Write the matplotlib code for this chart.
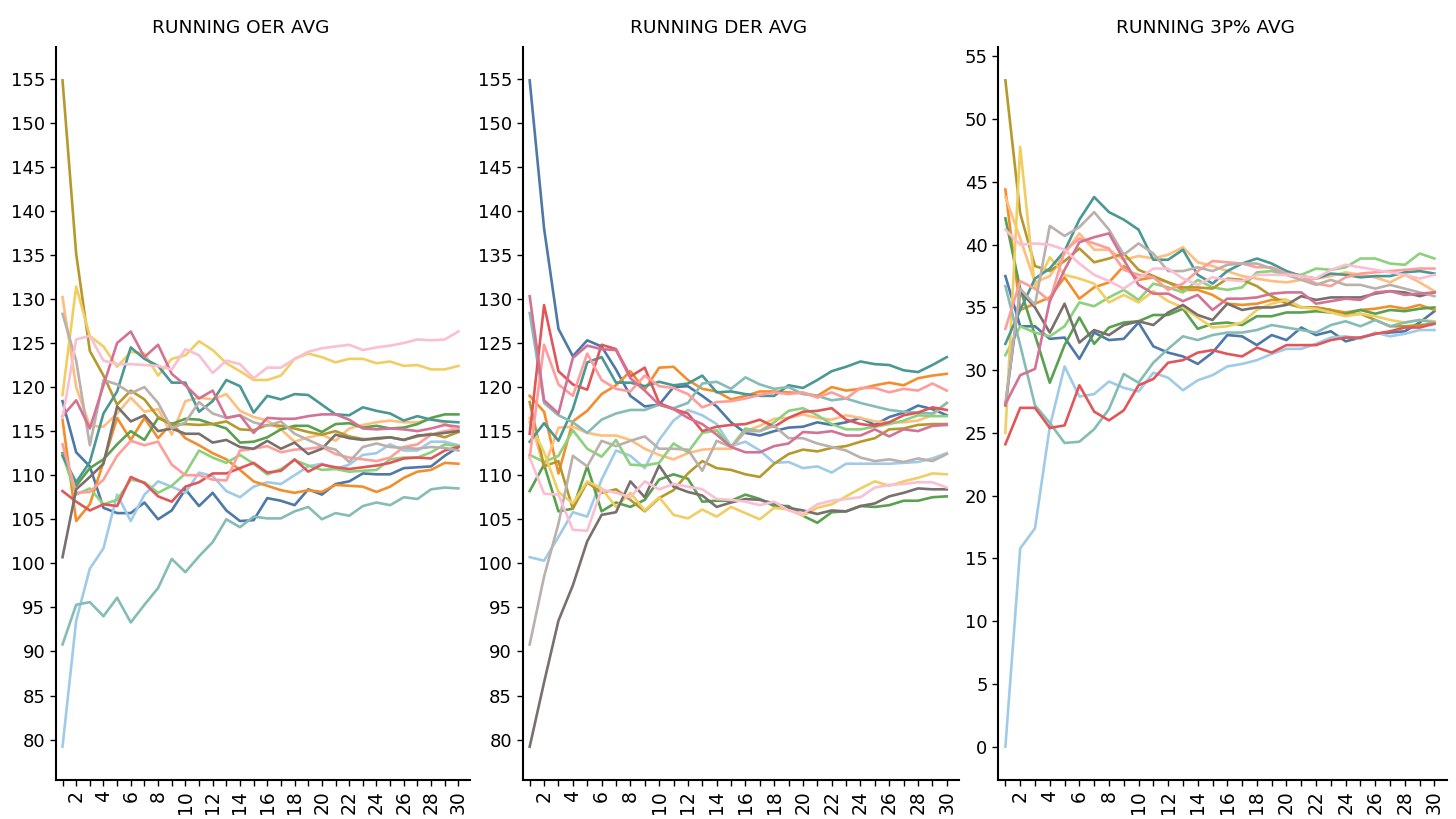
import matplotlib
matplotlib.use("Agg")
import matplotlib.pyplot as plt

games = list(range(1, 31))
tick_labels = [str(g) if g % 2 == 0 else "" for g in games]

# Tableau 20 colours, one per team
colors = {
    "blue": "#4E79A7", "lblue": "#A0CBE8", "orange": "#F28E2B", "lorange": "#FFBE7D",
    "green": "#59A14F", "lgreen": "#8CD17D", "olive": "#B6992D", "yellow": "#F1CE63",
    "teal": "#499894", "lteal": "#86BCB6", "red": "#E15759", "lred": "#FF9D9A",
    "gray": "#79706E", "lgray": "#BAB0AC", "pink": "#D37295", "lpink": "#FABFD2",
}
team_order = list(colors.keys())

# ---- running OER ----
oer_blue = [118.4, 112.6, 111.0, 106.3, 105.7, 105.7, 106.9, 105.0, 106.0, 108.4, 106.5, 108.0, 106.0, 104.8, 104.9,
            107.4, 107.1, 106.6, 108.4, 107.8, 109.0, 109.3, 110.2, 110.1, 110.1, 110.8, 110.9, 111.0, 112.2, 113.2]
oer_lblue = [79.2, 93.5, 99.4, 101.7, 107.8, 104.8, 107.8, 109.3, 108.7, 108.0, 110.3, 109.9, 108.2, 107.5, 108.7,
             109.2, 109.0, 110.0, 111.0, 111.3, 110.7, 111.2, 112.3, 112.5, 113.5, 112.8, 112.8, 113.8, 113.8, 113.4]
oer_orange = [116.3, 104.8, 106.7, 111.5, 116.5, 114.0, 116.5, 114.2, 115.9, 114.2, 113.4, 112.5, 111.8, 110.6, 109.3,
              108.8, 108.3, 108.0, 108.3, 108.1, 108.9, 108.8, 108.7, 108.1, 108.7, 109.7, 110.4, 110.6, 111.4, 111.3]
oer_lorange = [130.2, 120.0, 115.6, 115.5, 117.0, 118.8, 117.2, 117.5, 114.6, 118.4, 118.8, 118.6, 119.2, 117.3, 116.6,
               116.2, 115.2, 113.8, 114.3, 114.6, 113.9, 115.3, 115.7, 116.0, 116.2, 116.0, 116.0, 116.4, 115.9, 114.9]
oer_green = [112.5, 108.8, 110.8, 111.8, 113.5, 115.0, 114.0, 116.5, 115.8, 116.4, 116.3, 115.8, 115.3, 113.7, 113.8,
             114.3, 115.2, 115.6, 115.6, 114.9, 115.8, 115.9, 115.4, 115.6, 115.3, 115.4, 115.8, 116.5, 116.9, 116.9]
oer_lgreen = [112.3, 107.8, 108.5, 106.7, 107.2, 109.5, 109.2, 108.0, 108.8, 110.2, 112.8, 112.0, 111.4, 112.3, 111.3,
              110.1, 110.7, 111.7, 111.1, 110.6, 110.7, 110.4, 110.5, 110.6, 111.8, 112.0, 112.0, 112.6, 113.5, 113.3]
oer_olive = [154.8, 135.1, 124.1, 121.3, 118.0, 119.6, 118.6, 116.6, 115.7, 115.8, 115.7, 115.8, 116.1, 115.2, 115.1,
             115.7, 115.6, 115.3, 114.9, 114.6, 115.0, 114.4, 114.1, 114.1, 114.3, 114.0, 114.4, 114.7, 114.3, 114.9]
oer_yellow = [119.1, 131.4, 125.8, 124.6, 122.3, 124.0, 123.8, 121.3, 123.2, 123.6, 125.2, 124.2, 122.7, 121.8, 120.8,
              120.8, 121.3, 123.2, 123.8, 123.4, 122.8, 123.2, 123.2, 122.7, 122.9, 122.4, 122.5, 122.0, 122.0, 122.4]
oer_teal = [112.2, 109.2, 111.5, 117.0, 119.5, 124.5, 123.2, 122.4, 120.5, 120.5, 117.2, 118.4, 120.8, 120.1, 117.1,
            119.0, 118.6, 119.2, 119.1, 118.0, 116.9, 116.8, 117.7, 117.3, 117.0, 116.2, 116.7, 116.3, 116.1, 116.0]
oer_lteal = [90.8, 95.3, 95.6, 94.0, 96.1, 93.3, 95.3, 97.2, 100.5, 99.0, 100.8, 102.4, 105.0, 104.1, 105.3,
             105.1, 105.1, 105.9, 106.4, 105.0, 105.7, 105.4, 106.5, 106.9, 106.6, 107.5, 107.3, 108.4, 108.6, 108.5]
oer_red = [108.2, 107.0, 106.0, 106.7, 106.5, 109.8, 109.1, 107.6, 107.0, 108.7, 109.2, 110.2, 110.2, 110.8, 111.4,
           110.3, 110.5, 111.8, 110.4, 111.2, 110.9, 110.7, 110.9, 111.1, 111.4, 111.9, 112.0, 111.9, 112.8, 113.2]
oer_lred = [113.5, 108.0, 108.1, 109.5, 112.2, 113.9, 113.4, 113.8, 111.2, 110.0, 110.0, 109.5, 109.4, 112.8, 113.0,
            113.3, 112.6, 112.9, 113.0, 113.2, 112.4, 112.0, 111.8, 111.6, 112.0, 113.2, 113.5, 114.6, 115.0, 115.2]
oer_gray = [100.7, 108.4, 109.8, 111.3, 117.8, 116.1, 116.8, 115.0, 115.3, 114.7, 114.7, 113.7, 114.0, 113.2, 113.0,
            113.9, 113.0, 113.7, 112.4, 113.0, 114.6, 114.2, 114.0, 114.2, 114.3, 114.0, 114.5, 114.6, 114.8, 115.0]
oer_lgray = [128.3, 123.0, 113.4, 120.8, 120.3, 119.3, 120.0, 118.2, 115.3, 116.0, 118.3, 117.0, 116.5, 116.8, 116.0,
             115.6, 116.1, 114.7, 114.0, 113.3, 112.9, 111.5, 113.2, 113.6, 113.2, 113.1, 113.0, 113.2, 113.1, 112.8]
oer_pink = [116.7, 118.5, 115.3, 120.2, 125.0, 126.3, 123.4, 124.8, 121.5, 120.2, 118.7, 119.6, 116.5, 116.8, 114.8,
            116.5, 116.4, 116.4, 116.7, 116.9, 116.9, 116.3, 115.3, 115.2, 115.3, 115.2, 115.0, 115.3, 115.7, 115.5]
oer_lpink = [116.5, 125.4, 125.8, 123.0, 122.6, 122.6, 122.5, 122.4, 122.0, 124.3, 123.6, 121.6, 123.0, 122.6, 121.0,
             122.2, 122.2, 123.2, 124.0, 124.4, 124.6, 124.8, 124.2, 124.5, 124.7, 125.0, 125.4, 125.3, 125.4, 126.3]

# ---- running DER ----
der_blue = [154.8, 138.0, 126.6, 123.5, 125.3, 124.6, 122.0, 119.0, 117.8, 118.0, 120.0, 120.1, 119.0, 117.8, 116.0,
            114.8, 114.5, 115.0, 115.4, 115.5, 116.0, 115.7, 116.0, 116.5, 115.7, 116.6, 117.1, 117.9, 117.5, 116.8]
der_lblue = [100.7, 100.3, 103.0, 105.8, 105.3, 109.5, 112.8, 112.2, 110.8, 114.0, 116.2, 117.4, 116.8, 115.8, 113.3,
             113.8, 112.8, 111.4, 111.5, 110.8, 111.0, 110.3, 111.3, 111.3, 111.3, 111.3, 111.4, 111.5, 111.9, 112.5]
der_orange = [119.0, 117.2, 110.2, 116.1, 117.3, 119.2, 120.2, 121.8, 119.7, 122.2, 122.3, 120.8, 119.8, 119.5, 118.6,
              119.0, 119.5, 119.5, 119.4, 119.3, 119.0, 120.0, 119.6, 119.8, 120.2, 120.5, 120.2, 121.0, 121.3, 121.5]
der_lorange = [116.5, 110.8, 115.4, 115.5, 114.8, 114.5, 114.5, 114.0, 113.0, 112.3, 111.8, 112.5, 112.9, 113.0, 113.0,
               115.0, 115.6, 116.4, 116.5, 116.9, 116.5, 116.3, 116.8, 116.5, 116.1, 116.0, 116.0, 116.2, 116.8, 118.2]
der_green = [108.2, 111.2, 105.9, 106.2, 111.0, 105.9, 106.9, 106.4, 107.2, 109.5, 110.1, 109.6, 107.0, 107.1, 107.1,
             107.8, 107.3, 106.5, 106.5, 105.4, 104.6, 105.8, 105.9, 106.5, 106.4, 106.6, 107.1, 107.1, 107.5, 107.6]
der_lgreen = [112.3, 111.5, 112.2, 115.1, 113.0, 112.1, 114.0, 111.2, 111.1, 111.4, 113.6, 112.6, 114.8, 115.1, 113.2,
              115.3, 115.0, 116.0, 117.3, 117.6, 116.8, 115.8, 115.2, 115.2, 115.5, 115.8, 116.2, 116.8, 116.7, 116.7]
der_olive = [118.3, 111.0, 111.6, 106.2, 109.2, 108.0, 108.4, 107.2, 105.9, 107.4, 108.3, 110.2, 111.6, 110.8, 110.6,
             110.1, 109.8, 111.3, 112.4, 112.9, 112.7, 113.1, 113.3, 113.8, 114.2, 115.2, 115.3, 115.7, 115.8, 115.8]
der_yellow = [116.0, 112.6, 108.1, 106.8, 109.3, 108.5, 106.4, 108.0, 106.0, 107.5, 105.5, 105.1, 106.1, 105.3, 106.4,
              105.7, 105.0, 106.3, 106.1, 105.4, 106.3, 106.7, 107.6, 108.5, 109.3, 108.8, 109.3, 109.7, 110.2, 110.1]
der_teal = [113.8, 115.9, 113.9, 117.5, 122.8, 123.4, 120.5, 120.5, 120.1, 120.6, 120.2, 120.4, 121.3, 119.4, 119.5,
            119.2, 119.0, 119.0, 120.2, 119.9, 120.8, 121.8, 122.3, 122.9, 122.6, 122.5, 121.9, 121.7, 122.5, 123.4]
der_lteal = [128.4, 118.2, 116.8, 116.0, 114.8, 116.3, 117.0, 117.4, 117.4, 118.0, 117.6, 118.2, 120.4, 120.6, 119.8,
             121.1, 120.3, 119.8, 120.0, 119.2, 119.0, 118.5, 118.7, 118.2, 117.8, 117.4, 117.2, 117.1, 117.0, 118.2]
der_red = [114.7, 129.3, 121.8, 120.3, 119.7, 124.8, 124.3, 121.2, 122.2, 118.2, 117.5, 117.0, 115.0, 115.5, 115.7,
           115.8, 116.3, 115.5, 116.5, 117.2, 117.3, 117.6, 116.3, 115.8, 115.6, 116.0, 116.8, 117.1, 117.7, 117.4]
der_lred = [112.0, 124.8, 120.3, 119.0, 123.8, 120.8, 119.8, 119.5, 121.3, 120.1, 119.9, 119.2, 117.7, 118.3, 118.4,
            118.7, 119.1, 119.4, 119.2, 119.4, 118.8, 119.4, 118.7, 119.9, 119.9, 119.4, 119.8, 119.6, 120.4, 119.6]
der_gray = [79.2, 86.5, 93.5, 97.5, 102.5, 105.5, 105.8, 109.3, 107.5, 111.1, 108.7, 108.1, 107.7, 106.4, 106.9,
            107.3, 107.2, 106.8, 106.3, 106.0, 105.6, 106.0, 105.9, 106.5, 106.8, 107.6, 108.0, 108.5, 108.4, 108.4]
der_lgray = [90.8, 98.5, 104.5, 112.2, 111.0, 113.9, 113.3, 113.9, 114.4, 113.0, 113.0, 112.9, 110.5, 113.9, 113.2,
             115.0, 115.0, 115.6, 114.2, 114.2, 113.6, 113.2, 112.8, 112.0, 111.6, 111.8, 111.5, 111.9, 111.6, 112.4]
der_pink = [130.3, 118.5, 117.0, 123.3, 124.7, 124.3, 124.2, 121.0, 119.6, 118.0, 117.5, 116.5, 115.8, 114.6, 113.2,
            112.6, 112.6, 113.3, 113.6, 114.9, 114.8, 115.0, 114.5, 114.5, 115.2, 114.4, 115.2, 115.0, 115.6, 115.7]
der_lpink = [112.0, 107.9, 107.8, 103.8, 103.7, 108.4, 108.0, 107.5, 109.3, 108.4, 109.0, 108.7, 108.4, 107.3, 107.2,
             107.0, 106.6, 107.0, 106.0, 105.6, 106.7, 107.1, 107.3, 107.5, 108.6, 108.9, 109.0, 109.2, 109.2, 108.6]

# ---- running 3P% ----
tp_blue = [37.5, 33.5, 33.5, 32.5, 32.6, 30.9, 33.0, 32.4, 32.5, 33.8, 31.9, 31.4, 31.1, 30.5, 31.4,
           32.8, 32.7, 32.0, 32.8, 32.4, 33.4, 32.8, 33.1, 32.3, 32.6, 32.9, 33.0, 33.1, 33.8, 34.7]
tp_lblue = [0.0, 15.8, 17.4, 25.5, 30.3, 27.9, 28.1, 29.1, 28.6, 28.3, 29.8, 29.4, 28.4, 29.2, 29.6,
            30.3, 30.5, 30.8, 31.3, 31.7, 31.7, 32.1, 32.6, 32.7, 32.5, 33.0, 32.7, 32.9, 33.2, 33.2]
tp_orange = [44.4, 34.8, 35.3, 35.8, 37.4, 35.7, 36.6, 37.0, 38.3, 37.2, 37.4, 37.0, 36.4, 36.4, 36.0,
             35.3, 35.2, 35.3, 35.6, 35.6, 35.0, 35.0, 34.8, 34.6, 34.8, 34.9, 35.1, 34.9, 35.2, 34.8]
tp_lorange = [43.8, 40.5, 37.0, 37.5, 39.3, 40.9, 39.6, 39.6, 38.8, 39.1, 38.9, 39.2, 39.8, 38.6, 38.3,
              37.9, 37.5, 37.3, 37.1, 37.0, 37.2, 37.3, 37.5, 37.8, 37.6, 37.4, 37.0, 37.6, 37.0, 36.3]
tp_green = [42.1, 36.5, 32.8, 29.0, 32.0, 34.2, 32.1, 33.4, 33.8, 33.9, 34.4, 34.4, 34.9, 33.3, 33.7,
            33.8, 33.6, 34.3, 34.3, 34.6, 34.6, 34.7, 34.6, 34.5, 34.8, 34.5, 34.8, 34.7, 34.9, 35.0]
tp_lgreen = [31.2, 33.5, 33.0, 32.7, 33.5, 35.4, 35.1, 35.8, 36.4, 35.6, 36.9, 36.6, 36.2, 37.2, 36.6,
             36.4, 36.6, 37.8, 37.9, 37.6, 37.6, 38.1, 38.0, 38.2, 38.9, 38.9, 38.5, 38.4, 39.3, 38.9]
tp_olive = [53.1, 42.5, 38.3, 37.9, 38.7, 39.7, 38.6, 38.9, 39.3, 38.0, 37.5, 37.0, 36.6, 36.6, 36.5,
            37.3, 37.2, 36.7, 35.9, 35.3, 35.0, 35.0, 34.8, 34.4, 34.5, 34.0, 33.5, 33.5, 33.6, 33.7]
tp_yellow = [25.0, 47.8, 36.5, 39.0, 37.6, 37.3, 36.9, 35.4, 36.0, 35.4, 36.3, 35.5, 35.0, 34.2, 33.4,
             33.5, 33.8, 34.8, 35.3, 35.6, 35.0, 34.9, 34.6, 34.3, 34.5, 34.3, 34.0, 33.8, 34.0, 33.9]
tp_teal = [32.1, 34.8, 37.3, 38.1, 39.5, 42.0, 43.8, 42.6, 42.0, 41.2, 38.8, 38.8, 39.6, 37.6, 36.9,
           37.9, 38.5, 38.9, 38.5, 37.9, 37.5, 37.3, 37.7, 37.6, 37.4, 37.5, 37.5, 37.8, 37.9, 37.7]
tp_lteal = [36.7, 32.0, 27.2, 25.8, 24.2, 24.3, 25.3, 26.9, 29.7, 29.0, 30.6, 31.7, 32.7, 32.4, 32.8,
            33.0, 33.0, 33.2, 33.6, 33.4, 33.2, 33.0, 33.6, 33.9, 33.5, 34.0, 33.5, 33.8, 34.0, 33.8]
tp_red = [24.1, 27.0, 27.0, 25.4, 25.6, 28.8, 26.7, 26.0, 26.8, 28.8, 29.3, 30.6, 30.8, 31.4, 31.6,
          31.3, 31.1, 31.8, 31.4, 32.0, 32.0, 32.0, 32.4, 32.6, 32.6, 32.9, 33.1, 33.4, 33.4, 33.7]
tp_lred = [33.3, 37.1, 36.5, 35.5, 39.5, 40.5, 40.1, 39.7, 38.0, 37.6, 37.4, 36.4, 36.9, 37.9, 38.7,
           38.6, 38.5, 38.2, 38.2, 37.7, 37.5, 36.9, 36.7, 37.4, 37.7, 37.8, 37.9, 38.0, 38.1, 38.1]
tp_gray = [27.2, 36.3, 35.0, 33.0, 35.3, 32.2, 33.2, 32.8, 33.6, 33.9, 33.6, 34.6, 35.2, 34.4, 34.0,
           35.3, 34.8, 35.0, 35.0, 35.2, 35.9, 35.6, 35.8, 35.8, 35.8, 36.1, 36.3, 36.2, 35.9, 36.2]
tp_lgray = [27.3, 36.5, 35.2, 41.5, 40.7, 41.4, 42.6, 41.2, 39.2, 40.1, 39.3, 37.9, 37.9, 38.2, 37.9,
            38.4, 38.5, 38.5, 38.1, 37.6, 37.2, 36.8, 37.2, 36.8, 36.8, 36.5, 36.8, 36.5, 36.2, 35.9]
tp_pink = [27.3, 29.6, 30.1, 35.5, 38.0, 40.2, 40.6, 40.9, 38.8, 36.8, 36.1, 36.1, 35.5, 36.0, 34.8,
           35.7, 35.7, 35.8, 36.1, 36.2, 36.2, 35.3, 35.5, 35.7, 35.6, 36.2, 36.3, 36.0, 36.1, 36.2]
tp_lpink = [41.2, 40.0, 40.1, 40.0, 39.6, 38.5, 37.6, 37.1, 36.5, 37.3, 38.1, 38.1, 37.3, 36.8, 37.4,
            37.2, 37.1, 37.6, 37.6, 37.6, 37.5, 37.3, 38.0, 38.4, 38.2, 38.0, 37.8, 37.6, 37.3, 37.6]

# title, data prefix, axes left/right in px, y ticks, title x (axes fraction)
panels = [
    ("RUNNING OER AVG", "oer", (55.7, 470), range(80, 156, 5), 0.4465),
    ("RUNNING DER AVG", "der", (522.5, 959), range(80, 156, 5), 0.4486),
    ("RUNNING 3P% AVG", "tp", (998, 1447), range(0, 56, 5), 0.461),
]

W, H = 1456, 819
fig = plt.figure(figsize=(W / 100, H / 100), dpi=100)

for title, prefix, (x0, x1), yticks, title_x in panels:
    ax = fig.add_axes([x0 / W, 39 / H, (x1 - x0) / W, (780 - 47) / H])
    for team in team_order:
        ax.plot(games, globals()[f"{prefix}_{team}"], color=colors[team], lw=1.9)
    ax.set_title(title, fontsize=13.3, pad=10, x=title_x)
    ax.set_xlim(0.5, 30.85)
    ax.set_xticks(games)
    ax.set_xticklabels(tick_labels, rotation=90, fontsize=13.5)
    ax.set_yticks(list(yticks))
    ax.tick_params(axis="y", labelsize=13, length=4, width=1)
    ax.tick_params(axis="x", length=4, width=1)
    ax.spines["top"].set_visible(False)
    ax.spines["right"].set_visible(False)
    ax.spines["left"].set_linewidth(1.5)
    ax.spines["bottom"].set_linewidth(1.5)

fig.savefig("out.png", dpi=100)
